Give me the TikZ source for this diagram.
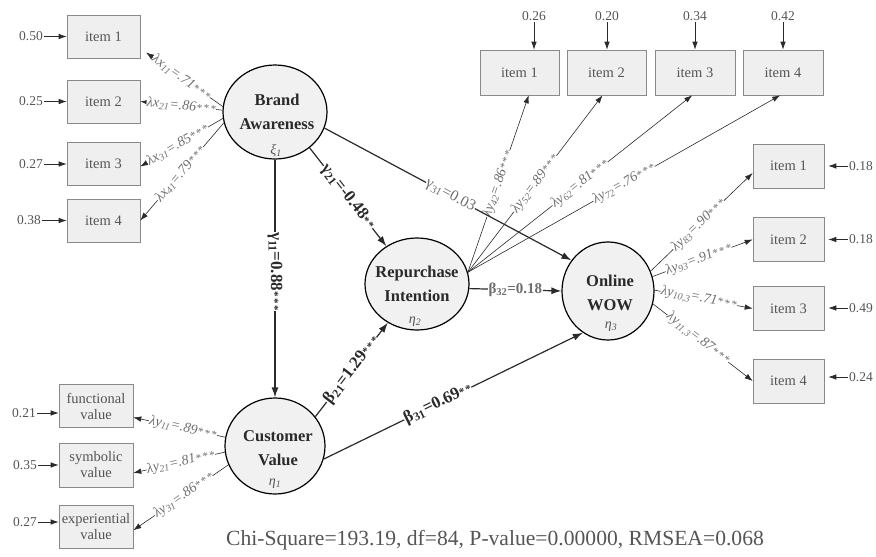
\documentclass[tikz,border=0pt]{standalone}
\usepackage{fontspec}
\setmainfont{Liberation Serif}
\usetikzlibrary{shapes.geometric,arrows.meta,calc}
\definecolor{boxfill}{HTML}{EFEFEF}
\definecolor{boxline}{HTML}{8A8A8A}
\definecolor{itemtxt}{HTML}{555555}
\definecolor{lblc}{HTML}{6E6E6E}
\definecolor{circfill}{HTML}{F1F1F1}
\definecolor{darkc}{HTML}{2A2A2A}
\newcommand{\stars}[1]{{\fontsize{11}{11}\selectfont\ifcase#1\or*\or*\kern1.5pt*\or*\kern1.5pt*\kern1.5pt*\fi}}
\begin{document}
\begin{tikzpicture}[x=1pt,y=-1pt,
  itembox/.style={draw=boxline, fill=boxfill, line width=0.6pt, inner sep=0pt, text=itemtxt, font=\fontsize{14.5}{16}\selectfont, align=center},
  latent/.style={ellipse, draw=black, line width=1.2pt, fill=circfill, inner sep=0pt},
  lattxt/.style={text=darkc, font=\bfseries\fontsize{16.5}{24}\selectfont, align=center},
  greek/.style={text=itemtxt, font=\itshape\fontsize{14}{14}\selectfont},
  errlab/.style={text=itemtxt, font=\fontsize{13.5}{14}\selectfont, inner sep=1pt},
  errarr/.style={draw=darkc, line width=0.7pt, -{Latex[length=8pt,width=5.5pt]}},
  loadarr/.style={draw=darkc, line width=0.6pt, -{Latex[length=8pt,width=5.5pt]}},
  structarr/.style={draw=darkc, line width=1.2pt, -{Latex[length=10pt,width=7pt]}},
  llab/.style={sloped, fill=white, inner sep=0.5pt, text=lblc, font=\itshape\fontsize{14}{14}\selectfont},
  slab/.style={fill=white, inner sep=0.5pt, text=darkc, font=\bfseries\fontsize{17}{17}\selectfont},
  glab/.style={fill=white, inner sep=0.5pt, text=lblc, font=\fontsize{15.5}{16}\selectfont},
]
\useasboundingbox (0,0) rectangle (876,557);

% latent variables
\node[latent, minimum width=104pt, minimum height=94pt] (ba) at (275,112) {};
\node[lattxt] (batxt) at (277,112) {Brand\\Awareness};
\node[greek] (baxi) at (276,151) {ξ\textsubscript{1}};

\node[latent, minimum width=104pt, minimum height=92pt] (ri) at (417,284) {};
\node[lattxt] (ritxt) at (417,284) {Repurchase\\Intention};
\node[greek] (rieta) at (415,322) {η\textsubscript{2}};

\node[latent, minimum width=92pt, minimum height=98pt] (ow) at (608,291) {};
\node[lattxt] (owtxt) at (610,293) {Online\\WOW};
\node[greek] (oweta) at (611,327) {η\textsubscript{3}};

\node[latent, minimum width=100pt, minimum height=96pt] (cv) at (275,446) {};
\node[lattxt] (cvtxt) at (278,448) {Customer\\Value};
\node[greek] (cveta) at (275,484) {η\textsubscript{1}};

% Brand awareness items
\foreach \i/\y in {1/36.5,2/101.5,3/164,4/220.5}{
  \node[itembox, minimum width=73pt, minimum height=43pt] (bi\i) at (103.5,\y) {item \i};
}
\node[errlab] (be1) at (31,36.5) {0.50};
\node[errlab] (be2) at (31,101.5) {0.25};
\node[errlab] (be3) at (31,164) {0.27};
\node[errlab] (be4) at (29,220.5) {0.38};
\foreach \i in {1,...,4}{\draw[errarr] (be\i) -- (be\i -| bi\i.west);}

% Customer value items
\node[itembox, minimum width=74pt, minimum height=43pt] (fv) at (96,406) {functional\\value};
\node[itembox, minimum width=74pt, minimum height=44pt] (sv) at (96,465) {symbolic\\value};
\node[itembox, minimum width=74pt, minimum height=43pt] (xv) at (96,527) {experiential\\value};
\node[errlab] (ce1) at (24,413) {0.21};
\node[errlab] (ce2) at (25,465) {0.35};
\node[errlab] (ce3) at (25,522) {0.27};
\draw[errarr] (ce1) -- (ce1 -| fv.west);
\draw[errarr] (ce2) -- (ce2 -| sv.west);
\draw[errarr] (ce3) -- (ce3 -| xv.west);

% top items (repurchase intention)
\node[itembox, minimum width=79pt, minimum height=45pt] (t1) at (519.5,72.5) {item 1};
\node[itembox, minimum width=79pt, minimum height=45pt] (t2) at (606.5,72.5) {item 2};
\node[itembox, minimum width=80pt, minimum height=45pt] (t3) at (695,72.5) {item 3};
\node[itembox, minimum width=80pt, minimum height=45pt] (t4) at (783,72.5) {item 4};
\node[errlab] (te1) at (534,16) {0.26};
\node[errlab] (te2) at (607,16) {0.20};
\node[errlab] (te3) at (695,16) {0.34};
\node[errlab] (te4) at (783,16) {0.42};
\foreach \i in {1,...,4}{\draw[errarr] (te\i) -- (te\i |- t\i.north);}

% right items (online WOW)
\node[itembox, minimum width=71pt, minimum height=44pt] (r1) at (788.5,166) {item 1};
\node[itembox, minimum width=71pt, minimum height=44pt] (r2) at (788.5,239.5) {item 2};
\node[itembox, minimum width=71pt, minimum height=44pt] (r3) at (788.5,308.5) {item 3};
\node[itembox, minimum width=71pt, minimum height=44pt] (r4) at (788.5,381) {item 4};
\node[errlab] (re1) at (861,166) {0.18};
\node[errlab] (re2) at (861,239.5) {0.18};
\node[errlab] (re3) at (861,308) {0.49};
\node[errlab] (re4) at (861,377) {0.24};
\foreach \i in {1,...,4}{\draw[errarr, shorten >=4pt] (re\i) -- (re\i -| r\i.east);}

% BA loadings
\draw[loadarr, shorten >=7pt] (ba.174) -- node[llab, pos=0.5] (l1) {λx\textsubscript{11}=.71\stars3} (bi1.-18);
\draw[loadarr] (ba.178) -- node[llab, pos=0.5] (l2) {λx\textsubscript{21}=.86\stars3} (bi2.east);
\draw[loadarr] (ba.187) -- node[llab, pos=0.55] (l3) {λx\textsubscript{31}=.85\stars3} (bi3.-4);
\draw[loadarr] (ba.192) -- node[llab, pos=0.52] (l4) {λx\textsubscript{41}=.79\stars3} (bi4.east);

% CV loadings
\draw[loadarr] (cv.170) -- node[llab, pos=0.46] (l5) {λy\textsubscript{11}=.89\stars3} (fv.-17);
\draw[loadarr] (cv.187) -- node[llab, pos=0.48] (l6) {λy\textsubscript{21}=.81\stars3} (sv.-12);
\draw[loadarr] (cv.202) -- node[llab, pos=0.47] (l7) {λy\textsubscript{31}=.86\stars3} (xv.-5);

% RI loadings
\draw[loadarr] (ri.13) -- node[llab, pos=0.5] (l8) {λy\textsubscript{42}=.86\stars3} (t1.-68);
\draw[loadarr] (ri.13) -- node[llab, pos=0.5] (l9) {λy\textsubscript{52}=.89\stars3} (t2.-100);
\draw[loadarr] (ri.13) -- node[llab, pos=0.5] (l10) {λy\textsubscript{62}=.81\stars3} (t3.-97);
\draw[loadarr] (ri.13) -- node[llab, pos=0.5] (l11) {λy\textsubscript{72}=.76\stars3} (t4.-97);

% OW loadings
\draw[loadarr] (ow.25) -- node[llab, pos=0.47] (l12) {λy\textsubscript{83}=.90\stars3} (r1.191);
\draw[loadarr] (ow.18) -- node[llab, pos=0.46] (l13) {λy\textsubscript{93}=.91\stars3} (r2.west);
\draw[loadarr] (ow.1) -- node[llab, pos=0.45] (l14) {λy\textsubscript{10,3}=.71\stars3} (r3.west);
\draw[loadarr] (ow.-16) -- node[llab, pos=0.45] (l15) {λy\textsubscript{11,3}=.87\stars3} (r4.west);

% structural paths
\draw[structarr] (ba.south) -- node[slab, rotate=-90, pos=0.47] (g11) {γ\textsubscript{11}=0.88\stars3} (cv.north);
\draw[structarr] (ba.-46) -- node[slab, sloped, pos=0.5] (g21) {γ\textsubscript{21}=-0.48\stars2} (ri.129);
\draw[structarr] (ba.-18) -- node[glab, sloped, pos=0.51] (g31) {γ\textsubscript{31}=0.03} (ow.140);
\draw[structarr] (cv.36) -- node[slab, sloped, pos=0.5] (b21) {β\textsubscript{21}=1.29\stars3} (ri.233);
\draw[structarr] (cv.-15) -- node[slab, sloped, pos=0.44] (b31) {β\textsubscript{31}=0.69\stars2} (ow.239);
\draw[structarr] (ri.-5) -- node[glab, font=\bfseries\fontsize{15}{16}\selectfont, pos=0.5] (b32) {β\textsubscript{32}=0.18} (ow.180);

% fit statistics
\node[text=itemtxt, font=\fontsize{21.6}{22}\selectfont] (fit) at (495,540) {Chi-Square=193.19, df=84, P-value=0.00000, RMSEA=0.068};
\end{tikzpicture}
\end{document}
